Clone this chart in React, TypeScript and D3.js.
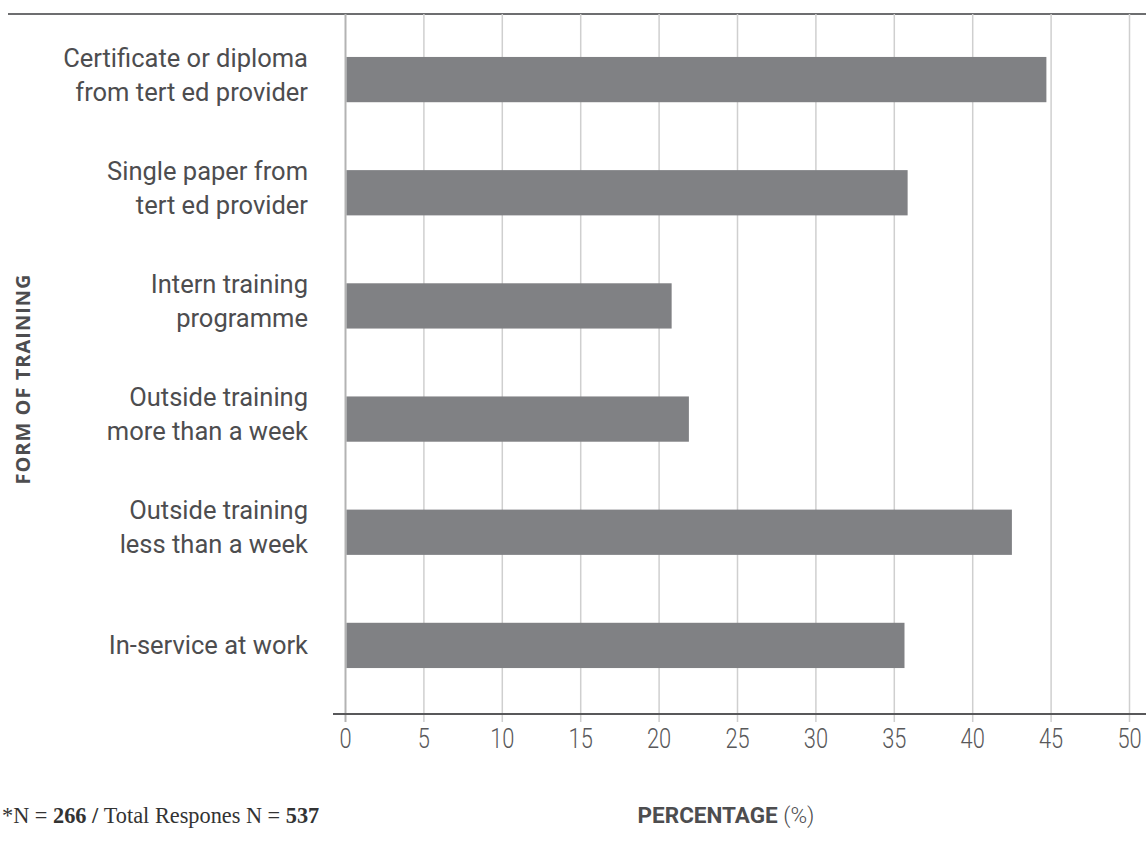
import React from 'react';
import * as d3 from 'd3';

const categories = [
  'Certificate or diploma from tert ed provider',
  'Single paper from tert ed provider',
  'Intern training programme',
  'Outside training more than a week',
  'Outside training less than a week',
  'In-service at work',
];
const labelLines = [
  ['Certificate or diploma', 'from tert ed provider'],
  ['Single paper from', 'tert ed provider'],
  ['Intern training', 'programme'],
  ['Outside training', 'more than a week'],
  ['Outside training', 'less than a week'],
  ['In-service at work'],
];
const values = [44.7, 35.85, 20.8, 21.9, 42.5, 35.65];
const xTicks = [0, 5, 10, 15, 20, 25, 30, 35, 40, 45, 50];

const W = 1146;
const H = 848;

export default function App() {
  const x = d3.scaleLinear().domain([0, 50]).range([345.5, 1129.5]);
  const y = d3
    .scaleBand<string>()
    .domain(categories)
    .range([23, 702])
    .paddingInner(0.6)
    .paddingOuter(0.3);
  const labelFont = 'Roboto, "DejaVu Sans", sans-serif';
  const textColor = '#4d4d4f';
  return (
    <svg width={W} height={H} style={{ position: 'absolute', left: 0, top: 0, background: '#fff' }}>
      {/* top rule */}
      <line x1={8} x2={W} y1={14} y2={14} stroke="#6d6e70" strokeWidth={2} />
      {/* grid lines */}
      {xTicks.map((t) => (
        <line
          key={'g' + t}
          x1={x(t)}
          x2={x(t)}
          y1={14}
          y2={722}
          stroke={t === 0 ? '#b3b3b3' : '#cfcfcf'}
          strokeWidth={t === 0 ? 2 : 1.5}
        />
      ))}
      {/* bars */}
      {categories.map((c, i) => (
        <rect
          key={c}
          x={x(0) + 1}
          y={y(c)}
          width={x(values[i]) - x(0) - 1}
          height={y.bandwidth()}
          fill="#808184"
        />
      ))}
      {/* bottom axis */}
      <line x1={333} x2={W} y1={714} y2={714} stroke="#58585a" strokeWidth={2} />
      {/* tick labels */}
      {xTicks.map((t) => (
        <text
          key={'t' + t}
          transform={`translate(${x(t)},748) scale(0.78,1)`}
          textAnchor="middle"
          fontFamily={labelFont}
          fontWeight={300}
          fontSize={28}
          fill="#58585a"
        >
          {t}
        </text>
      ))}
      {/* category labels */}
      {categories.map((c, i) => {
        const cy = (y(c) as number) + y.bandwidth() / 2;
        const lines = labelLines[i];
        const lh = 34;
        const base0 = cy + 9 - ((lines.length - 1) * lh) / 2 - (lines.length > 1 ? 5 : 0);
        return (
          <text
            key={'l' + c}
            textAnchor="end"
            fontFamily={labelFont}
            fontSize={25.5}
            fill={textColor}
          >
            {lines.map((ln, j) => (
              <tspan key={j} x={308} y={base0 + j * lh}>
                {ln}
              </tspan>
            ))}
          </text>
        );
      })}
      {/* y axis title */}
      <text
        transform="translate(30,379) rotate(-90)"
        textAnchor="middle"
        fontFamily='"Open Sans", "DejaVu Sans", sans-serif'
        fontWeight={700}
        fontSize={20}
        letterSpacing={1}
        fill={textColor}
      >
        FORM OF TRAINING
      </text>
      {/* x axis title */}
      <text
        x={726}
        y={823}
        textAnchor="middle"
        fontFamily={labelFont}
        fontSize={22.5}
        fill={textColor}
      >
        <tspan fontWeight={700}>PERCENTAGE</tspan>
        <tspan fontWeight={300}> (%)</tspan>
      </text>
      {/* footnote */}
      <text
        transform="translate(2,823) scale(0.93,1)"
        fontFamily='"Liberation Serif", "DejaVu Serif", serif'
        fontSize={24}
        fill="#333"
      >
        <tspan>*N = </tspan>
        <tspan fontWeight={700}>266</tspan>
        <tspan fontWeight={700}>  /  </tspan>
        <tspan>Total Respones N = </tspan>
        <tspan fontWeight={700}>537</tspan>
      </text>
    </svg>
  );
}
